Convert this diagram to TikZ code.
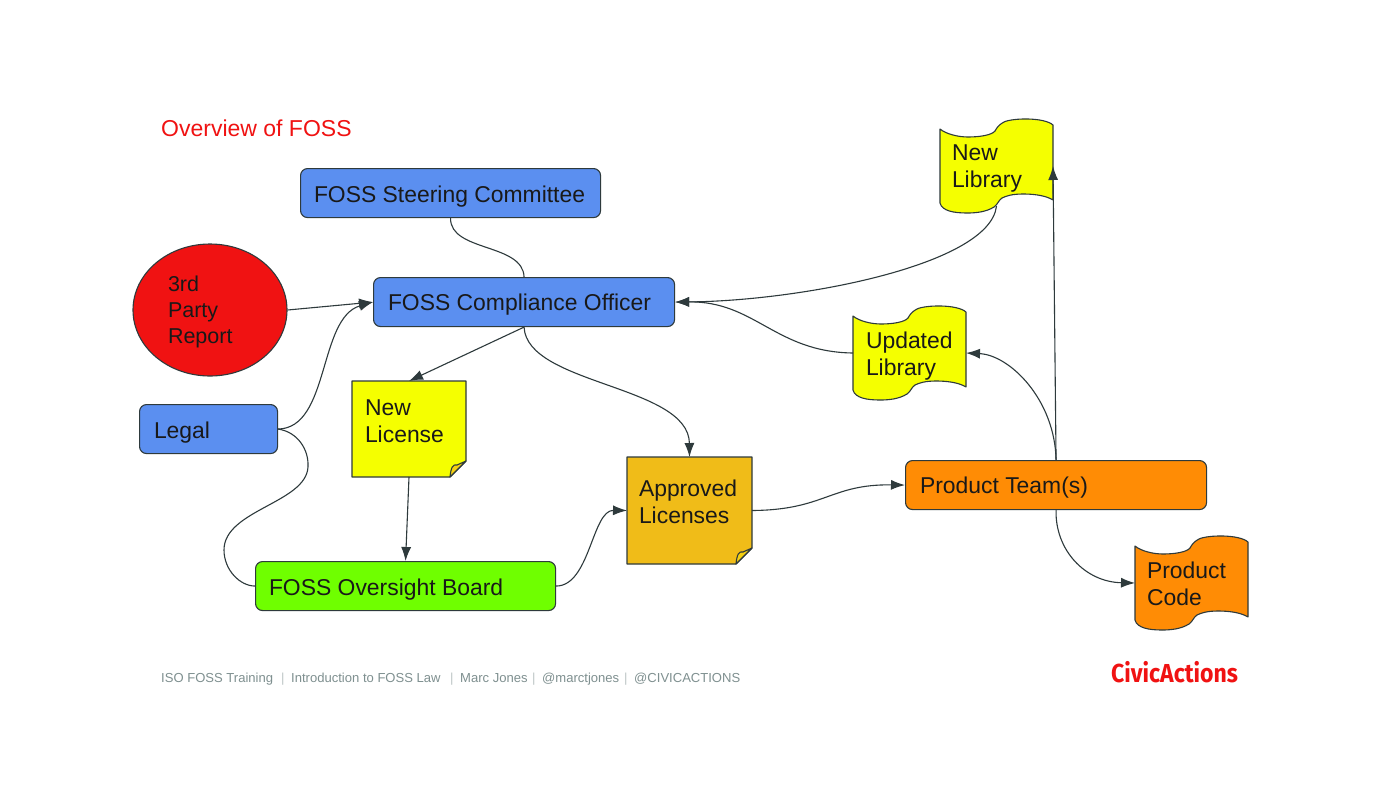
\documentclass[tikz,border=0pt]{standalone}
\usepackage{fontspec}
\setmainfont{Liberation Sans}
\newfontfamily\logofont{Fira Sans}
\usetikzlibrary{arrows.meta,shapes.geometric}
\definecolor{cblue}{HTML}{5B8FF0}
\definecolor{cred}{HTML}{F01212}
\definecolor{cgreen}{HTML}{6FFF00}
\definecolor{cyellow}{HTML}{F5FF00}
\definecolor{camber}{HTML}{F0BC18}
\definecolor{corange}{HTML}{FF8C05}
\definecolor{cline}{HTML}{2E3A3C}
\definecolor{cfoot}{HTML}{7F9090}
\tikzset{
  proc/.style={draw=cline,line width=1.1pt,rounded corners=7pt,minimum height=49pt,inner sep=0pt,fill=cblue},
  bound/.style={inner sep=0pt,outer sep=0pt},
  lbl/.style={inner sep=0pt,outer sep=0pt,text=black!90,font=\fontsize{22.9}{27}\selectfont,align=left},
  arr/.style={draw=cline,line width=1.1pt,-{Latex[length=14pt,width=10pt]}},
  plain/.style={draw=cline,line width=1.1pt},
  shapeline/.style={draw=cline,line width=1.1pt,line join=round},
  foot/.style={inner sep=0pt,text=cfoot,font=\fontsize{13.05}{15}\selectfont,anchor=base west},
}
\newcommand{\wavebox}[4]{%
  \begin{scope}[shift={(#2,#3)}]
    \path[shapeline,fill=#4] (0,10) .. controls (6,15) and (18,18) .. (28,18)
      .. controls (40,18) and (52,16) .. (55,12)
      .. controls (57,8) and (60,5) .. (64,3)
      .. controls (72,-1) and (104,-2) .. (113,6) -- (113,81)
      .. controls (105,76) and (92,75) .. (83,75)
      .. controls (72,75) and (66,77) .. (62,79)
      .. controls (58,82) and (58,85) .. (54,88)
      .. controls (46,93) and (36,94) .. (27,94)
      .. controls (14,94) and (2,92) .. (0,84) -- cycle;
    \node[bound,minimum width=113pt,minimum height=94pt,anchor=north west] (#1) at (0,0) {};
  \end{scope}}
\newcommand{\notebox}[6]{%
  \begin{scope}[shift={(#2,#3)}]
    \path[shapeline,fill=#6] (0,0) -- (#4,0) -- (#4,#5-16) -- (#4-16,#5) -- (0,#5) -- cycle;
    \path[shapeline,fill=camber!70!yellow] (#4,#5-16) -- (#4-16,#5) .. controls (#4-15,#5-10) and (#4-13,#5-13) .. (#4-9,#5-12) -- cycle;
    \node[bound,minimum width=#4 pt,minimum height=#5 pt,anchor=north west] (#1) at (0,0) {};
  \end{scope}}
\begin{document}
\begin{tikzpicture}[x=1pt,y=-1pt]
\useasboundingbox (0,0) rectangle (1400,788);
\fill[white] (0,0) rectangle (1400,788);

\node[inner sep=0pt,anchor=base west,text=cred,font=\fontsize{23}{26}\selectfont] (title) at (161,136) {Overview of FOSS};

\node[proc,minimum width=300pt,anchor=north west] (steer) at (300,168) {};
\node[proc,minimum width=301pt,anchor=north west] (comp) at (373,277) {};
\node[proc,minimum width=138pt,anchor=north west] (legal) at (139,404) {};
\node[proc,fill=cgreen,minimum width=300pt,anchor=north west] (over) at (255,561) {};
\node[proc,fill=corange,minimum width=301pt,anchor=north west] (team) at (905,460) {};
\node[ellipse,draw=cline,line width=1.1pt,fill=cred,inner sep=0pt,minimum width=154pt,minimum height=132pt] (third) at (210,310) {};

\notebox{newlic}{352}{381}{114}{96}{cyellow}
\notebox{applic}{627}{457}{125}{107}{camber}
\wavebox{newlib}{940}{119}{cyellow}
\wavebox{updlib}{853}{306}{cyellow}
\wavebox{prodcode}{1135}{536}{corange}

\node[lbl,anchor=base west] (tsteer) at (314,202) {FOSS Steering Committee};
\node[lbl,anchor=base west] (tcomp) at (388,310) {FOSS Compliance Officer};
\node[lbl,anchor=base west] (tlegal) at (154,438) {Legal};
\node[lbl,anchor=base west] (tover) at (269,595) {FOSS Oversight Board};
\node[lbl,anchor=base west] (tteam) at (920,493) {Product Team(s)};
\node[lbl,anchor=north west,font=\fontsize{21.5}{26}\selectfont] (tthird) at (168,276) {3rd\\Party\\Report};
\node[lbl,anchor=north west] (tnewlic) at (365,400) {New\\License};
\node[lbl,anchor=north west] (tapp) at (639,480) {Approved\\Licenses};
\node[lbl,anchor=north west] (tnewlib) at (952,145) {New\\Library};
\node[lbl,anchor=north west] (tupd) at (866,332) {Updated\\Library};
\node[lbl,anchor=north west] (tcode) at (1147,562) {Product\\Code};

\node[foot] (f1) at (161,682) {ISO FOSS Training};
\node[foot,text=cfoot!50] (s1) at (281,682) {|};
\node[foot] (f2) at (291,682) {Introduction to FOSS Law};
\node[foot,text=cfoot!50] (s2) at (450,682) {|};
\node[foot] (f3) at (460,682) {Marc Jones};
\node[foot,text=cfoot!50] (s3) at (532,682) {|};
\node[foot] (f4) at (542,682) {@marctjones};
\node[foot,text=cfoot!50] (s4) at (624,682) {|};
\node[foot] (f5) at (634,682) {@CIVICACTIONS};
\node[inner sep=0pt,anchor=base west,text=cred,font=\logofont\fontsize{26}{30}\selectfont\bfseries] (logo) at (1111,682) {\scalebox{0.885}[1]{CivicActions}};

% connectors
\draw[plain] (steer.south) .. controls (450,252) and (523,243) .. (comp.north);
\draw[arr] (third.east) -- (comp.west);
\draw[arr] (legal.east) .. controls (330,428) and (318,318) .. (comp.west);
\draw[plain] (legal.east) .. controls (298,432) and (309,450) .. (308,467)
  .. controls (306,503) and (224,510) .. (224,550)
  .. controls (224,570) and (240,586) .. (over.west);
\draw[arr] (comp.south) -- (newlic.north);
\draw[arr] (comp.south) .. controls (527,385) and (689,385) .. (applic.north);
\draw[arr] (newlic.south) -- (over.north);
\draw[arr] (over.east) .. controls (590,586) and (592,510) .. (applic.west);
\draw[arr] (applic.east) .. controls (825,510) and (830,484) .. (team.west);
\draw[arr] (team.north) -- (newlib.east);
\draw[arr] (team.north) .. controls (1055,400) and (1010,355) .. (updlib.east);
\draw[arr] (updlib.west) .. controls (775,352) and (755,301) .. (comp.east);
\draw[arr] ([yshift=7pt]newlib.south) .. controls (990,265) and (800,301) .. (comp.east);
\draw[arr] (team.south) .. controls (1055,550) and (1085,582) .. (prodcode.west);
\end{tikzpicture}
\end{document}
